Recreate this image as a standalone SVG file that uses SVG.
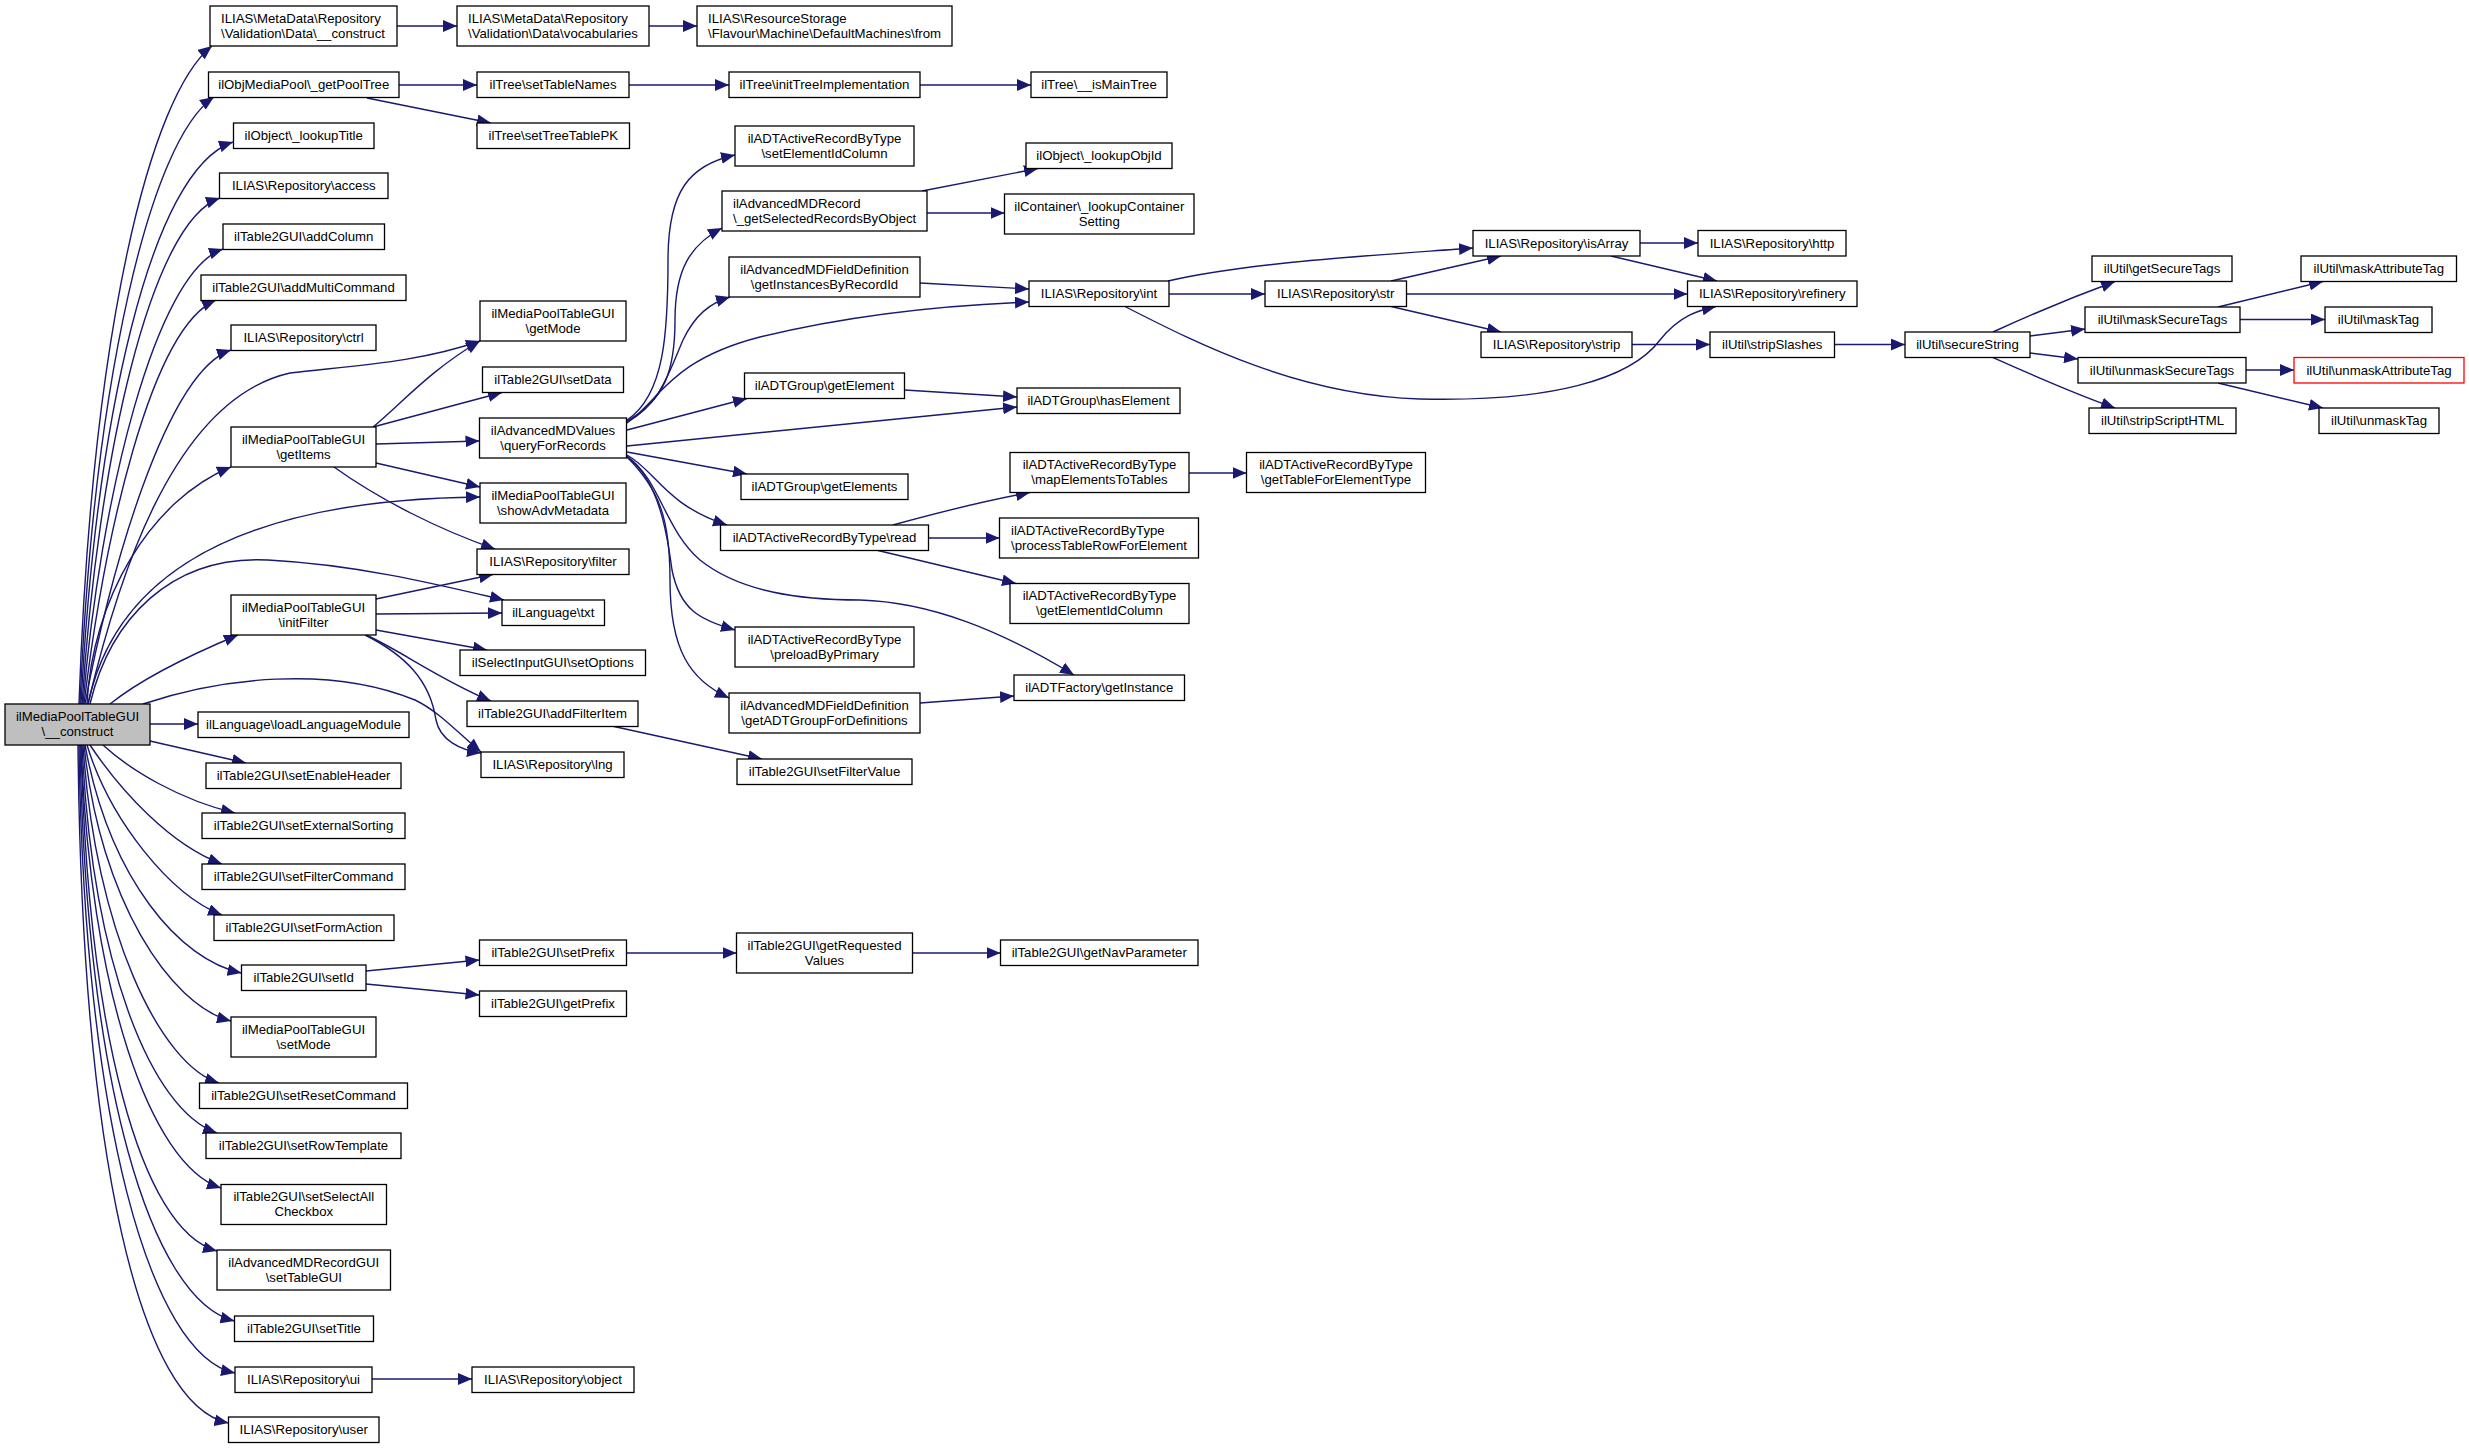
<svg xmlns="http://www.w3.org/2000/svg" width="2469" height="1449" viewBox="0 0 2469 1449">
<defs>
<style>
.n rect{fill:#fff;stroke:#000;stroke-width:1.3}
.n.g rect{fill:#bfbfbf}
.n.r rect{stroke:#f00}
text{font-family:"Liberation Sans",Arial,Helvetica,sans-serif;font-size:13.2px;fill:#000;text-anchor:middle}
text.l{text-anchor:start}
#edges path{fill:none;stroke:#191970;stroke-width:1.4;marker-end:url(#a)}
</style>
<marker id="a" markerUnits="userSpaceOnUse" markerWidth="14" markerHeight="12" viewBox="0 0 13 11" refX="13" refY="5.5" orient="auto"><path d="M0,0L13,5.5L0,11z" fill="#191970"/></marker>
</defs>
<rect width="2469" height="1449" fill="#fff"/>
<g id="edges">
<path d="M397,26L457,26"/>
<path d="M649,26L697,26"/>
<path d="M399,85L477,85"/>
<path d="M629,85L729,85"/>
<path d="M920,85L1031,85"/>
<path d="M367,98L491,123"/>
<path d="M79,704C92,330 150,95 212,46"/>
<path d="M80,704C94,380 150,140 214,97"/>
<path d="M81,704C96,420 150,170 233,142"/>
<path d="M82,704C98,460 150,222 220,198"/>
<path d="M83,704C100,500 155,272 223,249"/>
<path d="M84,704C104,540 150,328 216,300"/>
<path d="M85,704C108,580 165,372 231,350"/>
<path d="M87,704C92,600 150,500 231,467"/>
<path d="M88,704C115,590 170,400 290,373C360,365 420,362 480,341"/>
<path d="M88,704C110,600 200,500 480,497"/>
<path d="M90,704C110,620 170,555 268,560C360,565 440,585 504,600"/>
<path d="M110,704C140,680 190,655 238,635"/>
<path d="M143,704C220,678 330,665 415,700C440,712 460,735 481,752"/>
<path d="M150,724L198,724"/>
<path d="M150,741L246,763"/>
<path d="M103,745C130,770 180,800 235,813"/>
<path d="M90,745C120,790 170,845 222,864"/>
<path d="M87,745C110,820 170,895 222,915"/>
<path d="M85,745C110,880 180,960 241.5,973"/>
<path d="M84,745C100,900 170,1005 231,1021"/>
<path d="M83,745C95,930 160,1065 219,1083"/>
<path d="M82,745C92,960 150,1110 217,1133"/>
<path d="M81,745C90,990 150,1165 221,1188"/>
<path d="M81,745C88,1030 140,1230 217,1251"/>
<path d="M80,745C86,1080 150,1300 234.5,1321"/>
<path d="M79,745C84,1120 150,1355 235,1373"/>
<path d="M78,745C82,1160 140,1405 228.5,1423"/>
<path d="M373,427C400,405 430,370 480,341"/>
<path d="M373,427L502,392.5"/>
<path d="M376,444L479.5,441"/>
<path d="M376,463L480,487"/>
<path d="M334,467C380,500 440,530 495,549"/>
<path d="M376,599L493,574.5"/>
<path d="M376,614L502,613"/>
<path d="M376,630L487,650"/>
<path d="M366,635C400,650 440,680 491,701"/>
<path d="M365,635C405,655 430,680 436,720C440,740 460,750 481,753"/>
<path d="M614,726.5L762,759"/>
<path d="M366,971L479.5,960"/>
<path d="M366,984L479.5,995"/>
<path d="M626.5,953L736.5,953"/>
<path d="M912.5,953L1000.5,953"/>
<path d="M372,1379L472,1379"/>
<path d="M627,420C665,395 668,330 668,260C668,190 690,165 735,155"/>
<path d="M627,421C665,400 675,370 675,320C675,270 690,245 722,228"/>
<path d="M627,422C660,405 670,370 683,340C695,315 710,303 730,297"/>
<path d="M627,423C660,400 670,360 760,337C850,315 950,305 1029,302"/>
<path d="M627,430L747,398.5"/>
<path d="M627,446L1017,407"/>
<path d="M627,452L747,474"/>
<path d="M627,455C655,470 665,505 727,525"/>
<path d="M627,457C660,480 668,540 672,570C680,610 700,620 735,630"/>
<path d="M627,457C660,490 670,520 670,580C670,650 690,680 729,698"/>
<path d="M627,456C660,480 665,530 700,560C740,592 800,600 860,600C930,602 1000,630 1074,675"/>
<path d="M922,191L1038,168.5"/>
<path d="M927,213L1004.5,213"/>
<path d="M920,283L1029,289"/>
<path d="M904.5,390L1017,397"/>
<path d="M893,525C940,512 990,500 1030,492.5"/>
<path d="M928.5,538L999.5,538"/>
<path d="M878,550.5L1016,583.5"/>
<path d="M1189,473L1246.5,473"/>
<path d="M920,703L1014,696"/>
<path d="M1169,294L1265,294"/>
<path d="M1168,281C1250,262 1380,255 1473,248"/>
<path d="M1125,306.5C1200,345 1300,395 1420,399C1550,402 1630,380 1660,340C1680,315 1700,310 1716,306.5"/>
<path d="M1391,281L1501,256"/>
<path d="M1406.5,294L1687.5,294"/>
<path d="M1391,306.5L1501,332"/>
<path d="M1640,243L1698,243"/>
<path d="M1611,256L1717,281"/>
<path d="M1632,344.5L1710,344.5"/>
<path d="M1834.5,344.5L1905,344.5"/>
<path d="M1993,332C2030,315 2070,298 2115,281.5"/>
<path d="M2030,336L2085,329"/>
<path d="M2030,353L2078,359"/>
<path d="M1993,357.5C2030,374 2070,392 2115,408"/>
<path d="M2218,307L2323,281.5"/>
<path d="M2240,319.5L2325,319.5"/>
<path d="M2246,370L2294,370"/>
<path d="M2218,383L2323,408"/>
</g>
<g id="n0" class="n g"><rect x="5" y="704" width="145" height="41"/><text x="77.5" y="721">ilMediaPoolTableGUI</text><text x="77.5" y="736">\__construct</text></g>
<g id="n1" class="n"><rect x="210" y="6" width="187" height="40"/><text class="l" x="221" y="22.5">ILIAS\MetaData\Repository</text><text class="l" x="221" y="37.5">\Validation\Data\__construct</text></g>
<g id="n2" class="n"><rect x="457" y="6" width="192" height="40"/><text class="l" x="468" y="22.5">ILIAS\MetaData\Repository</text><text class="l" x="468" y="37.5">\Validation\Data\vocabularies</text></g>
<g id="n3" class="n"><rect x="697" y="6" width="255" height="40"/><text class="l" x="708" y="22.5">ILIAS\ResourceStorage</text><text class="l" x="708" y="37.5">\Flavour\Machine\DefaultMachines\from</text></g>
<g id="n4" class="n"><rect x="208.5" y="72" width="190.5" height="25.5"/><text x="303.75" y="89.25">ilObjMediaPool\_getPoolTree</text></g>
<g id="n5" class="n"><rect x="477" y="72" width="152" height="25.5"/><text x="553" y="89.25">ilTree\setTableNames</text></g>
<g id="n6" class="n"><rect x="729" y="72" width="191" height="25.5"/><text x="824.5" y="89.25">ilTree\initTreeImplementation</text></g>
<g id="n7" class="n"><rect x="1031" y="72" width="136" height="25.5"/><text x="1099" y="89.25">ilTree\__isMainTree</text></g>
<g id="n8" class="n"><rect x="477" y="123" width="152.5" height="25.5"/><text x="553.25" y="140.25">ilTree\setTreeTablePK</text></g>
<g id="n9" class="n"><rect x="233.5" y="123" width="140.5" height="25.5"/><text x="303.75" y="140.25">ilObject\_lookupTitle</text></g>
<g id="n10" class="n"><rect x="219.5" y="173" width="168.5" height="25.5"/><text x="303.75" y="190.25">ILIAS\Repository\access</text></g>
<g id="n11" class="n"><rect x="223" y="224" width="161.5" height="25.5"/><text x="303.75" y="241.25">ilTable2GUI\addColumn</text></g>
<g id="n12" class="n"><rect x="201" y="275" width="205" height="25.5"/><text x="303.5" y="292.25">ilTable2GUI\addMultiCommand</text></g>
<g id="n13" class="n"><rect x="231" y="325" width="145" height="25.5"/><text x="303.5" y="342.25">ILIAS\Repository\ctrl</text></g>
<g id="n14" class="n"><rect x="480" y="301" width="146" height="40"/><text x="553" y="317.5">ilMediaPoolTableGUI</text><text x="553" y="332.5">\getMode</text></g>
<g id="n15" class="n"><rect x="482.5" y="367" width="141" height="25.5"/><text x="553" y="384.25">ilTable2GUI\setData</text></g>
<g id="n16" class="n"><rect x="479.5" y="418" width="147" height="40"/><text x="553" y="434.5">ilAdvancedMDValues</text><text x="553" y="449.5">\queryForRecords</text></g>
<g id="n17" class="n"><rect x="231" y="427" width="145" height="40"/><text x="303.5" y="443.5">ilMediaPoolTableGUI</text><text x="303.5" y="458.5">\getItems</text></g>
<g id="n18" class="n"><rect x="480" y="483" width="146" height="40"/><text x="553" y="499.5">ilMediaPoolTableGUI</text><text x="553" y="514.5">\showAdvMetadata</text></g>
<g id="n19" class="n"><rect x="477" y="549" width="152" height="25.5"/><text x="553" y="566.25">ILIAS\Repository\filter</text></g>
<g id="n20" class="n"><rect x="502" y="600" width="102.5" height="25.5"/><text x="553.25" y="617.25">ilLanguage\txt</text></g>
<g id="n21" class="n"><rect x="231" y="595" width="145" height="40"/><text x="303.5" y="611.5">ilMediaPoolTableGUI</text><text x="303.5" y="626.5">\initFilter</text></g>
<g id="n22" class="n"><rect x="460" y="650" width="185.5" height="25.5"/><text x="552.75" y="667.25">ilSelectInputGUI\setOptions</text></g>
<g id="n23" class="n"><rect x="467" y="701" width="171" height="25.5"/><text x="552.5" y="718.25">ilTable2GUI\addFilterItem</text></g>
<g id="n24" class="n"><rect x="481" y="752" width="143" height="25.5"/><text x="552.5" y="769.25">ILIAS\Repository\lng</text></g>
<g id="n25" class="n"><rect x="198" y="712" width="211" height="25.5"/><text x="303.5" y="729.25">ilLanguage\loadLanguageModule</text></g>
<g id="n26" class="n"><rect x="206" y="763" width="195" height="25.5"/><text x="303.5" y="780.25">ilTable2GUI\setEnableHeader</text></g>
<g id="n27" class="n"><rect x="202" y="813" width="203" height="25.5"/><text x="303.5" y="830.25">ilTable2GUI\setExternalSorting</text></g>
<g id="n28" class="n"><rect x="202" y="864" width="203" height="25.5"/><text x="303.5" y="881.25">ilTable2GUI\setFilterCommand</text></g>
<g id="n29" class="n"><rect x="214" y="915" width="180" height="25.5"/><text x="304" y="932.25">ilTable2GUI\setFormAction</text></g>
<g id="n30" class="n"><rect x="479.5" y="940" width="147" height="25.5"/><text x="553" y="957.25">ilTable2GUI\setPrefix</text></g>
<g id="n31" class="n"><rect x="241.5" y="965" width="124.5" height="25.5"/><text x="303.75" y="982.25">ilTable2GUI\setId</text></g>
<g id="n32" class="n"><rect x="479.5" y="991" width="147" height="25.5"/><text x="553" y="1008.25">ilTable2GUI\getPrefix</text></g>
<g id="n33" class="n"><rect x="231" y="1017" width="145" height="40"/><text x="303.5" y="1033.5">ilMediaPoolTableGUI</text><text x="303.5" y="1048.5">\setMode</text></g>
<g id="n34" class="n"><rect x="199.5" y="1083" width="208" height="25.5"/><text x="303.5" y="1100.25">ilTable2GUI\setResetCommand</text></g>
<g id="n35" class="n"><rect x="206" y="1133" width="195" height="25.5"/><text x="303.5" y="1150.25">ilTable2GUI\setRowTemplate</text></g>
<g id="n36" class="n"><rect x="221" y="1184.5" width="165.5" height="40"/><text x="303.75" y="1201">ilTable2GUI\setSelectAll</text><text x="303.75" y="1216">Checkbox</text></g>
<g id="n37" class="n"><rect x="217" y="1250" width="173.5" height="40"/><text x="303.75" y="1266.5">ilAdvancedMDRecordGUI</text><text x="303.75" y="1281.5">\setTableGUI</text></g>
<g id="n38" class="n"><rect x="234.5" y="1316" width="139" height="25.5"/><text x="304" y="1333.25">ilTable2GUI\setTitle</text></g>
<g id="n39" class="n"><rect x="235" y="1367" width="137" height="25.5"/><text x="303.5" y="1384.25">ILIAS\Repository\ui</text></g>
<g id="n40" class="n"><rect x="472" y="1367" width="162" height="25.5"/><text x="553" y="1384.25">ILIAS\Repository\object</text></g>
<g id="n41" class="n"><rect x="228.5" y="1417" width="150.5" height="25.5"/><text x="303.75" y="1434.25">ILIAS\Repository\user</text></g>
<g id="n42" class="n"><rect x="735" y="126" width="179" height="40"/><text x="824.5" y="142.5">ilADTActiveRecordByType</text><text x="824.5" y="157.5">\setElementIdColumn</text></g>
<g id="n43" class="n"><rect x="722" y="191" width="205" height="40"/><text class="l" x="733" y="207.5">ilAdvancedMDRecord</text><text class="l" x="733" y="222.5">\_getSelectedRecordsByObject</text></g>
<g id="n44" class="n"><rect x="729" y="257" width="191" height="40"/><text x="824.5" y="273.5">ilAdvancedMDFieldDefinition</text><text x="824.5" y="288.5">\getInstancesByRecordId</text></g>
<g id="n45" class="n"><rect x="744.5" y="373" width="160" height="25.5"/><text x="824.5" y="390.25">ilADTGroup\getElement</text></g>
<g id="n46" class="n"><rect x="741" y="474" width="167" height="25.5"/><text x="824.5" y="491.25">ilADTGroup\getElements</text></g>
<g id="n47" class="n"><rect x="720.5" y="525" width="208" height="25.5"/><text x="824.5" y="542.25">ilADTActiveRecordByType\read</text></g>
<g id="n48" class="n"><rect x="735" y="627" width="179" height="40"/><text x="824.5" y="643.5">ilADTActiveRecordByType</text><text x="824.5" y="658.5">\preloadByPrimary</text></g>
<g id="n49" class="n"><rect x="729" y="693" width="191" height="40"/><text x="824.5" y="709.5">ilAdvancedMDFieldDefinition</text><text x="824.5" y="724.5">\getADTGroupForDefinitions</text></g>
<g id="n50" class="n"><rect x="737" y="759" width="175" height="25.5"/><text x="824.5" y="776.25">ilTable2GUI\setFilterValue</text></g>
<g id="n51" class="n"><rect x="736.5" y="933" width="176" height="40"/><text x="824.5" y="949.5">ilTable2GUI\getRequested</text><text x="824.5" y="964.5">Values</text></g>
<g id="n52" class="n"><rect x="1026" y="143" width="146" height="25.5"/><text x="1099" y="160.25">ilObject\_lookupObjId</text></g>
<g id="n53" class="n"><rect x="1004.5" y="194" width="189.5" height="40"/><text x="1099.25" y="210.5">ilContainer\_lookupContainer</text><text x="1099.25" y="225.5">Setting</text></g>
<g id="n54" class="n"><rect x="1029" y="281" width="140" height="25.5"/><text x="1099" y="298.25">ILIAS\Repository\int</text></g>
<g id="n55" class="n"><rect x="1017" y="388" width="163" height="25.5"/><text x="1098.5" y="405.25">ilADTGroup\hasElement</text></g>
<g id="n56" class="n"><rect x="1010" y="452.5" width="179" height="40"/><text x="1099.5" y="469">ilADTActiveRecordByType</text><text x="1099.5" y="484">\mapElementsToTables</text></g>
<g id="n57" class="n"><rect x="999.5" y="518" width="199" height="40"/><text class="l" x="1011" y="534.5">ilADTActiveRecordByType</text><text class="l" x="1011" y="549.5">\processTableRowForElement</text></g>
<g id="n58" class="n"><rect x="1010" y="583.5" width="179" height="40"/><text x="1099.5" y="600">ilADTActiveRecordByType</text><text x="1099.5" y="615">\getElementIdColumn</text></g>
<g id="n59" class="n"><rect x="1014" y="675" width="170.5" height="25.5"/><text x="1099.25" y="692.25">ilADTFactory\getInstance</text></g>
<g id="n60" class="n"><rect x="1000.5" y="940" width="197.5" height="25.5"/><text x="1099.25" y="957.25">ilTable2GUI\getNavParameter</text></g>
<g id="n61" class="n"><rect x="1246.5" y="452.5" width="179" height="40"/><text x="1336" y="469">ilADTActiveRecordByType</text><text x="1336" y="484">\getTableForElementType</text></g>
<g id="n62" class="n"><rect x="1265" y="281" width="141.5" height="25.5"/><text x="1335.75" y="298.25">ILIAS\Repository\str</text></g>
<g id="n63" class="n"><rect x="1473" y="230.5" width="167" height="25.5"/><text x="1556.5" y="247.75">ILIAS\Repository\isArray</text></g>
<g id="n64" class="n"><rect x="1698" y="230.5" width="148" height="25.5"/><text x="1772" y="247.75">ILIAS\Repository\http</text></g>
<g id="n65" class="n"><rect x="1687.5" y="281" width="169.5" height="25.5"/><text x="1772.25" y="298.25">ILIAS\Repository\refinery</text></g>
<g id="n66" class="n"><rect x="1481" y="332" width="151" height="25.5"/><text x="1556.5" y="349.25">ILIAS\Repository\strip</text></g>
<g id="n67" class="n"><rect x="1710" y="332" width="124.5" height="25.5"/><text x="1772.25" y="349.25">ilUtil\stripSlashes</text></g>
<g id="n68" class="n"><rect x="1905" y="332" width="125" height="25.5"/><text x="1967.5" y="349.25">ilUtil\secureString</text></g>
<g id="n69" class="n"><rect x="2092" y="256" width="140" height="25.5"/><text x="2162" y="273.25">ilUtil\getSecureTags</text></g>
<g id="n70" class="n"><rect x="2085" y="307" width="155" height="25.5"/><text x="2162.5" y="324.25">ilUtil\maskSecureTags</text></g>
<g id="n71" class="n"><rect x="2078" y="357.5" width="168" height="25.5"/><text x="2162" y="374.75">ilUtil\unmaskSecureTags</text></g>
<g id="n72" class="n"><rect x="2089" y="408" width="147" height="25.5"/><text x="2162.5" y="425.25">ilUtil\stripScriptHTML</text></g>
<g id="n73" class="n"><rect x="2301" y="256" width="155.5" height="25.5"/><text x="2378.75" y="273.25">ilUtil\maskAttributeTag</text></g>
<g id="n74" class="n"><rect x="2325" y="307" width="107" height="25.5"/><text x="2378.5" y="324.25">ilUtil\maskTag</text></g>
<g id="n75" class="n r"><rect x="2294" y="357.5" width="170" height="25.5"/><text x="2379" y="374.75">ilUtil\unmaskAttributeTag</text></g>
<g id="n76" class="n"><rect x="2319" y="408" width="120" height="25.5"/><text x="2379" y="425.25">ilUtil\unmaskTag</text></g>
</svg>
